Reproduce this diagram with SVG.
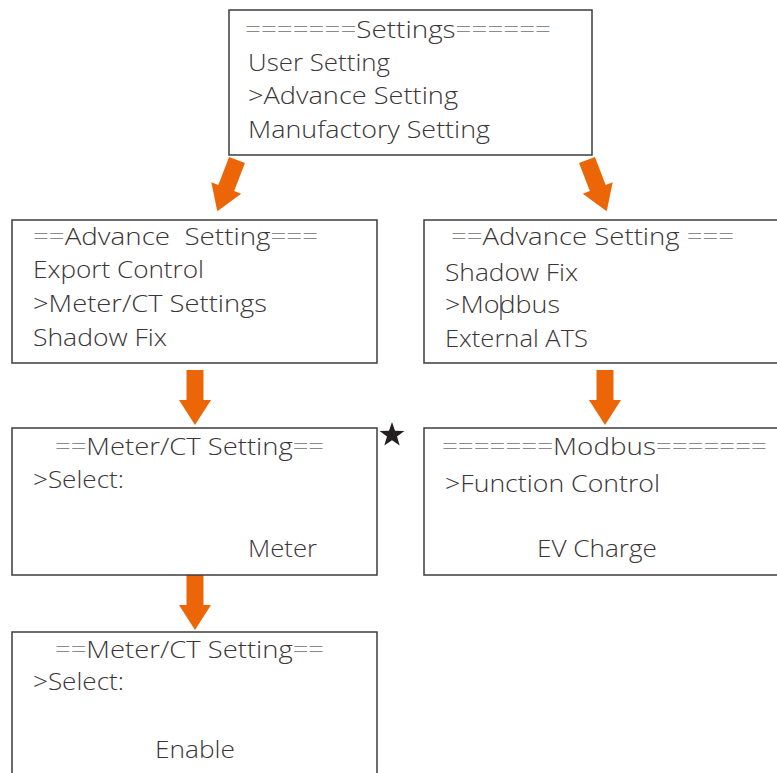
<svg xmlns="http://www.w3.org/2000/svg" width="777" height="773" viewBox="0 0 777 773">
<style>
.box{fill:#fff;stroke:#3f3b3c;stroke-width:1.5}
.t{font-family:"Open Sans","Noto Sans","Liberation Sans",sans-serif;font-size:23px;font-weight:300;fill:#3b3538}
.eq{fill:#8a8a8a}
.arr{fill:#EC6608}
</style>
<defs>
<path id="arrow" d="M-8.5,0 H8.5 V30 H16 L0,55 L-16,30 H-8.5 Z"/>
<path id="star" d="M0,-13 L3,-4.2 L12.4,-4 L5,1.6 L7.7,10.5 L0,5.2 L-7.7,10.5 L-5,1.6 L-12.4,-4 L-3,-4.2 Z"/>
</defs>
<rect width="777" height="773" fill="#fff"/>
<g id="connectors">
<use href="#arrow" class="arr" transform="translate(237,160) rotate(21)"/>
<use href="#arrow" class="arr" transform="translate(587,160) rotate(-21)"/>
<use href="#arrow" class="arr" transform="translate(195,370)"/>
<use href="#arrow" class="arr" transform="translate(605,370)"/>
<use href="#arrow" class="arr" transform="translate(195,575)"/>
</g>
<g id="settings">
<rect class="box" x="229" y="10" width="363" height="145"/>
<text class="t" x="245" y="38" textLength="306" lengthAdjust="spacingAndGlyphs"><tspan class="eq">=======</tspan>Settings<tspan class="eq">======</tspan></text>
<text class="t" x="248" y="71" textLength="142" lengthAdjust="spacingAndGlyphs">User Setting</text>
<text class="t" x="248" y="104" textLength="210" lengthAdjust="spacingAndGlyphs">&gt;Advance Setting</text>
<text class="t" x="248" y="138" textLength="242" lengthAdjust="spacingAndGlyphs">Manufactory Setting</text>
</g>
<g id="advance-left">
<rect class="box" x="12" y="220" width="365" height="143"/>
<text class="t" x="33" y="245" textLength="285" lengthAdjust="spacingAndGlyphs" xml:space="preserve"><tspan class="eq">==</tspan>Advance  Setting<tspan class="eq">===</tspan></text>
<text class="t" x="33" y="278" textLength="171" lengthAdjust="spacingAndGlyphs">Export Control</text>
<text class="t" x="33" y="312" textLength="234" lengthAdjust="spacingAndGlyphs">&gt;Meter/CT Settings</text>
<text class="t" x="33" y="346" textLength="134" lengthAdjust="spacingAndGlyphs">Shadow Fix</text>
</g>
<g id="advance-right">
<rect class="box" x="424" y="220" width="370" height="143"/>
<text class="t" x="451" y="245" textLength="283" lengthAdjust="spacingAndGlyphs" xml:space="preserve"><tspan class="eq">==</tspan>Advance Setting <tspan class="eq">===</tspan></text>
<text class="t" x="445" y="281" textLength="133" lengthAdjust="spacingAndGlyphs">Shadow Fix</text>
<text class="t" x="445" y="313" textLength="115" lengthAdjust="spacingAndGlyphs">&gt;Modbus</text>
<line x1="501" y1="295" x2="501" y2="320" stroke="#3b3538" stroke-width="1.2"/>
<text class="t" x="445" y="347" textLength="143" lengthAdjust="spacingAndGlyphs">External ATS</text>
</g>
<g id="meter-ct-1">
<rect class="box" x="12" y="428" width="365" height="147"/>
<text class="t" x="55" y="455" textLength="269" lengthAdjust="spacingAndGlyphs"><tspan class="eq">==</tspan>Meter/CT Setting<tspan class="eq">==</tspan></text>
<text class="t" x="33" y="488" textLength="91" lengthAdjust="spacingAndGlyphs">&gt;Select:</text>
<text class="t" x="248" y="557" textLength="69" lengthAdjust="spacingAndGlyphs">Meter</text>
</g>
<g id="star-note">
<use href="#star" fill="#231f20" transform="translate(392,435)"/>
</g>
<g id="modbus">
<rect class="box" x="424" y="428" width="370" height="147"/>
<text class="t" x="442" y="455" textLength="325" lengthAdjust="spacingAndGlyphs"><tspan class="eq">=======</tspan>Modbus<tspan class="eq">=======</tspan></text>
<text class="t" x="445" y="492" textLength="215" lengthAdjust="spacingAndGlyphs">&gt;Function Control</text>
<text class="t" x="537" y="557" textLength="120" lengthAdjust="spacingAndGlyphs">EV Charge</text>
</g>
<g id="meter-ct-2">
<rect class="box" x="12" y="632" width="365" height="160"/>
<text class="t" x="55" y="658" textLength="269" lengthAdjust="spacingAndGlyphs"><tspan class="eq">==</tspan>Meter/CT Setting<tspan class="eq">==</tspan></text>
<text class="t" x="33" y="690" textLength="91" lengthAdjust="spacingAndGlyphs">&gt;Select:</text>
<text class="t" x="155" y="758" textLength="80" lengthAdjust="spacingAndGlyphs">Enable</text>
</g>
</svg>
